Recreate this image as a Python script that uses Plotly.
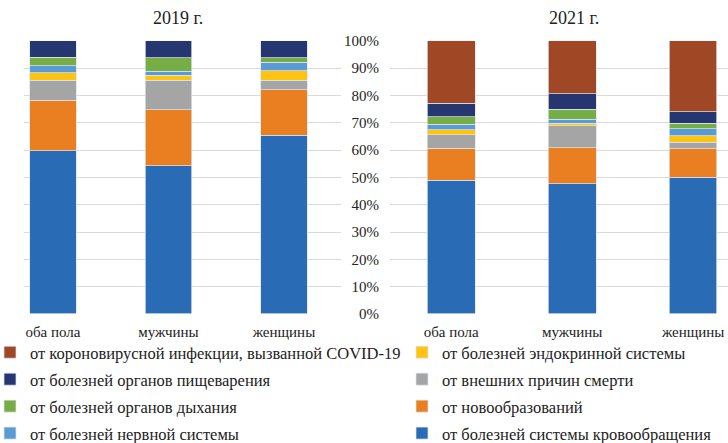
import plotly.graph_objects as go

W, H = 728, 443

groups = ["оба пола", "мужчины", "женщины"]

# Shares of causes of death, %
circulatory_2019 = [59.8, 54.2, 65.4]
neoplasms_2019 = [18.4, 20.6, 16.6]
external_2019 = [7.3, 10.8, 3.5]
endocrine_2019 = [2.7, 1.7, 3.5]
nervous_2019 = [2.7, 1.6, 3.2]
respiratory_2019 = [3.0, 4.9, 1.6]
digestive_2019 = [6.1, 6.2, 6.2]

circulatory_2021 = [49.0, 47.7, 50.0]
neoplasms_2021 = [11.7, 13.2, 10.4]
external_2021 = [4.8, 7.9, 2.5]
endocrine_2021 = [1.9, 1.0, 2.3]
nervous_2021 = [2.1, 1.4, 2.5]
respiratory_2021 = [2.7, 3.8, 2.1]
digestive_2021 = [5.0, 5.6, 4.2]
covid_2021 = [22.8, 19.4, 26.0]

y_ticks = [0, 10, 20, 30, 40, 50, 60, 70, 80, 90, 100]
y_tick_text = [f"{v}%" for v in y_ticks]

# (name, colour, 2019 values, 2021 values, legend, rank) from bottom of the stack up
series = [
    ("от болезней системы кровообращения", "#2A6BB5", circulatory_2019, circulatory_2021, "legend2", 4),
    ("от новообразований", "#EA7F22", neoplasms_2019, neoplasms_2021, "legend2", 3),
    ("от внешних причин смерти", "#A5A5A5", external_2019, external_2021, "legend2", 2),
    ("от болезней эндокринной системы", "#FFC40F", endocrine_2019, endocrine_2021, "legend2", 1),
    ("от болезней нервной системы", "#5B9BD5", nervous_2019, nervous_2021, "legend", 4),
    ("от болезней органов дыхания", "#76AD45", respiratory_2019, respiratory_2021, "legend", 3),
    ("от болезней органов пищеварения", "#263670", digestive_2019, digestive_2021, "legend", 2),
    ("от короновирусной инфекции, вызванной COVID-19", "#A04826", None, covid_2021, "legend", 1),
]

FONT = "Liberation Serif, Times New Roman, serif"

fig = go.Figure()
for name, color, v19, v21, leg, rank in series:
    if v19 is not None:
        fig.add_trace(go.Bar(
            x=groups, y=v19, name=name, marker_color=color,
            marker_line=dict(color="rgba(220,228,240,0.9)", width=0.8),
            width=0.4, xaxis="x", yaxis="y", legendgroup=name, showlegend=False,
        ))
    fig.add_trace(go.Bar(
        x=groups, y=v21, name=name, marker_color=color,
        marker_line=dict(color="rgba(220,228,240,0.9)", width=0.8),
        width=0.394, xaxis="x2", yaxis="y2", legendgroup=name,
        legend=leg, legendrank=rank, showlegend=True,
    ))

def px_x(p):
    return p / W

def px_y(p):
    return 1 - p / H

y_dom = [px_y(314), px_y(40.7)]
grid = "#D9D9D9"

fig.update_layout(
    width=W, height=H,
    margin=dict(l=0, r=0, t=0, b=0, autoexpand=False),
    barmode="stack",
    paper_bgcolor="white", plot_bgcolor="white",
    font=dict(family=FONT, size=15, color="#222222"),
    xaxis=dict(domain=[px_x(24), px_x(341)], range=[-0.251, 2.494],
               showgrid=False, zeroline=False, showline=False,
               tickfont=dict(size=15, family=FONT), ticklabelstandoff=7),
    yaxis=dict(domain=y_dom, range=[0, 100], tickvals=y_ticks,
               showticklabels=False, gridcolor=grid, gridwidth=1,
               zeroline=False, showline=False),
    xaxis2=dict(domain=[px_x(390), 1], range=[-0.506, 2.288],
                showgrid=False, zeroline=False, showline=False,
                tickfont=dict(size=15, family=FONT), ticklabelstandoff=7, anchor="y2"),
    yaxis2=dict(domain=y_dom, range=[0, 100], tickvals=y_ticks,
                ticktext=y_tick_text, gridcolor=grid, gridwidth=1,
                zeroline=False, showline=False, anchor="x2",
                tickfont=dict(size=15, family=FONT), ticklabelstandoff=10),
    legend=dict(x=px_x(-10), y=px_y(335), xanchor="left", yanchor="top",
                font=dict(size=16.5, family=FONT), tracegroupgap=2.5,
                bgcolor="rgba(0,0,0,0)"),
    legend2=dict(x=px_x(402), y=px_y(335), xanchor="left", yanchor="top",
                 font=dict(size=16.5, family=FONT), tracegroupgap=2.5,
                 bgcolor="rgba(0,0,0,0)"),
    annotations=[
        dict(text="2019 г.", x=px_x(178), y=px_y(18), xref="paper", yref="paper",
             xanchor="center", yanchor="middle",
             showarrow=False, font=dict(size=18, family=FONT)),
        dict(text="2021 г.", x=px_x(574), y=px_y(18), xref="paper", yref="paper",
             xanchor="center", yanchor="middle",
             showarrow=False, font=dict(size=18, family=FONT)),
    ],
)

fig.write_html("out.html")
